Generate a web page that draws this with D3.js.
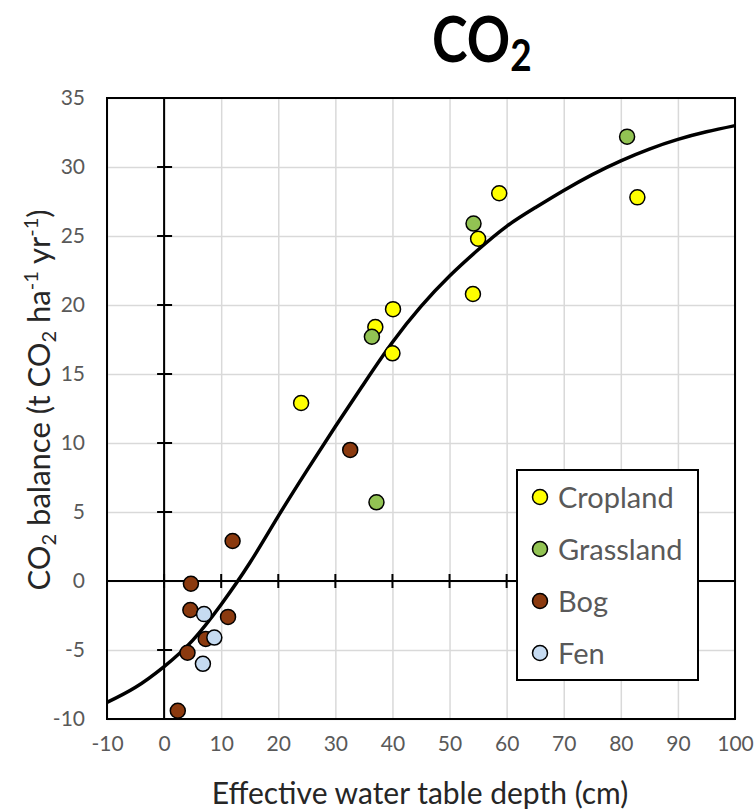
<!DOCTYPE html>
<html>
<head>
<meta charset="utf-8">
<script src="https://cdn.jsdelivr.net/npm/d3@7"></script>
<style>
  html, body { margin: 0; padding: 0; background: #fff; }
  svg { display: block; font-family: Lato, "Open Sans", sans-serif; }
</style>
</head>
<body>
<svg id="chart" width="755" height="811"></svg>
<script>
// Measured CO2 balance (t CO2 ha-1 yr-1) against effective water table depth (cm)
const croplandDepth = [24.0, 37.0, 40.1, 40.0, 54.1, 55.0, 58.7, 82.9];
const croplandCO2   = [12.9, 18.4, 19.7, 16.5, 20.8, 24.8, 28.1, 27.8];

const grasslandDepth = [81.1, 54.2, 36.4, 37.2];
const grasslandCO2   = [32.2, 25.9, 17.7, 5.7];

const bogDepth = [32.6, 12.0, 4.7, 4.6, 11.2, 7.3, 4.1, 2.4];
const bogCO2   = [9.5, 2.9, -0.2, -2.1, -2.6, -4.2, -5.2, -9.4];

const fenDepth = [7.0, 8.8, 6.8];
const fenCO2   = [-2.4, -4.1, -6.0];

// Fitted response curve, read at 5 cm steps
const curveDepth = [-10, -5, 0, 5, 10, 15, 20, 25, 30, 35, 40, 45, 50, 55, 60, 65, 70, 75, 80, 85, 90, 95, 100];
const curveCO2   = [-8.8, -7.7, -6.2, -4.3, -1.7, 1.3, 4.7, 8.0, 11.2, 14.3, 17.3, 19.9, 22.1, 24.0, 25.7, 27.05, 28.3, 29.45, 30.45, 31.3, 32.0, 32.55, 33.0];

const xTicks = [-10, 0, 10, 20, 30, 40, 50, 60, 70, 80, 90, 100];
const yTicks = [-10, -5, 0, 5, 10, 15, 20, 25, 30, 35];

const seriesNames  = ["Cropland", "Grassland", "Bog", "Fen"];
const seriesColors = ["#ffff00", "#92c353", "#8b3a0f", "#c6dbf1"];

const series = [
  { name: seriesNames[0], color: seriesColors[0], xs: croplandDepth, ys: croplandCO2 },
  { name: seriesNames[1], color: seriesColors[1], xs: grasslandDepth, ys: grasslandCO2 },
  { name: seriesNames[2], color: seriesColors[2], xs: bogDepth, ys: bogCO2 },
  { name: seriesNames[3], color: seriesColors[3], xs: fenDepth, ys: fenCO2 }
];

const svg = d3.select("#chart");
const plot = { left: 107, right: 735, top: 98, bottom: 719 };

const x = d3.scaleLinear().domain([-10, 100]).range([plot.left, plot.right]);
const y = d3.scaleLinear().domain([-10, 35]).range([plot.bottom, plot.top]);

// Grid lines
svg.append("g")
  .attr("transform", `translate(0,${plot.bottom})`)
  .call(d3.axisBottom(x).tickValues(xTicks).tickSize(-(plot.bottom - plot.top)).tickFormat(""))
  .call(g => g.select(".domain").remove())
  .call(g => g.selectAll("line").attr("stroke", "#d9d9d9").attr("stroke-width", 1.5));

svg.append("g")
  .attr("transform", `translate(${plot.left},0)`)
  .call(d3.axisLeft(y).tickValues(yTicks).tickSize(-(plot.right - plot.left)).tickFormat(""))
  .call(g => g.select(".domain").remove())
  .call(g => g.selectAll("line").attr("stroke", "#d9d9d9").attr("stroke-width", 1.5));

// Tick labels (plain hyphen for negatives)
const tickColor = "#595959";
const fmt = d => String(d);
svg.append("g")
  .attr("transform", `translate(0,${plot.bottom})`)
  .call(d3.axisBottom(x).tickValues(xTicks).tickSize(0).tickPadding(17).tickFormat(fmt))
  .call(g => g.select(".domain").remove())
  .call(g => g.selectAll("text").attr("fill", tickColor).attr("font-size", 21).attr("font-family", "Lato, sans-serif"));

svg.append("g")
  .attr("transform", `translate(${plot.left},0)`)
  .call(d3.axisLeft(y).tickValues(yTicks).tickSize(0).tickPadding(22).tickFormat(fmt))
  .call(g => g.select(".domain").remove())
  .call(g => g.selectAll("text").attr("fill", tickColor).attr("font-size", 21).attr("font-family", "Lato, sans-serif"));

// Zero axes with crossing tick marks
const axisG = svg.append("g").attr("stroke", "#000").attr("stroke-width", 2);
axisG.append("line")
  .attr("x1", x(0)).attr("x2", x(0)).attr("y1", plot.top).attr("y2", plot.bottom);
axisG.append("line")
  .attr("x1", plot.left).attr("x2", plot.right).attr("y1", y(0)).attr("y2", y(0));
axisG.selectAll(".yt").data(yTicks).join("line")
  .attr("x1", x(0) - 7).attr("x2", x(0) + 8)
  .attr("y1", d => y(d)).attr("y2", d => y(d));
axisG.selectAll(".xt").data(xTicks).join("line")
  .attr("x1", d => x(d)).attr("x2", d => x(d))
  .attr("y1", y(0) - 7).attr("y2", y(0) + 7);

// Plot frame
svg.append("rect")
  .attr("x", plot.left).attr("y", plot.top)
  .attr("width", plot.right - plot.left).attr("height", plot.bottom - plot.top)
  .attr("fill", "none").attr("stroke", "#000").attr("stroke-width", 2);

// Fitted curve
const line = d3.line()
  .x((d, i) => x(curveDepth[i]))
  .y(d => y(d))
  .curve(d3.curveNatural);
svg.append("path")
  .datum(curveCO2)
  .attr("d", line)
  .attr("fill", "none")
  .attr("stroke", "#000")
  .attr("stroke-width", 3.5);

// Data points
series.forEach(s => {
  svg.append("g").selectAll("circle")
    .data(s.xs.map((v, i) => [v, s.ys[i]]))
    .join("circle")
    .attr("cx", d => x(d[0]))
    .attr("cy", d => y(d[1]))
    .attr("r", 7.5)
    .attr("fill", s.color)
    .attr("stroke", "#000")
    .attr("stroke-width", 1.5);
});

// Legend
const legend = svg.append("g");
legend.append("rect")
  .attr("x", 517).attr("y", 470).attr("width", 181).attr("height", 210)
  .attr("fill", "#fff").attr("stroke", "#000").attr("stroke-width", 2);
series.forEach((s, i) => {
  const cy = 497 + i * 52;
  legend.append("circle")
    .attr("cx", 540).attr("cy", cy).attr("r", 7.5)
    .attr("fill", s.color).attr("stroke", "#000").attr("stroke-width", 1.5);
  legend.append("text")
    .attr("x", 558).attr("y", cy + 11)
    .attr("font-size", 29).attr("fill", "#595959")
    .text(s.name);
});

// Axis titles
svg.append("text")
  .attr("x", 420).attr("y", 804)
  .attr("text-anchor", "middle")
  .attr("font-size", 30).attr("fill", "#262626")
  .text("Effective water table depth (cm)");

const yTitle = svg.append("text")
  .attr("transform", "translate(50,400) rotate(-90)")
  .attr("text-anchor", "middle")
  .attr("font-size", 31).attr("fill", "#262626");
yTitle.append("tspan").text("CO");
yTitle.append("tspan").attr("font-size", 20).attr("dy", 6).text("2");
yTitle.append("tspan").attr("dy", -6).text(" balance (t CO");
yTitle.append("tspan").attr("font-size", 20).attr("dy", 6).text("2");
yTitle.append("tspan").attr("dy", -6).text(" ha");
yTitle.append("tspan").attr("font-size", 20).attr("dy", -12).text("-1");
yTitle.append("tspan").attr("dy", 12).text(" yr");
yTitle.append("tspan").attr("font-size", 20).attr("dy", -12).text("-1");
yTitle.append("tspan").attr("dy", 12).text(")");

// Chart title
const title = svg.append("text")
  .attr("transform", "translate(432,62) scale(0.84,1)")
  .attr("font-size", 64).attr("font-weight", "bold").attr("fill", "#000");
title.append("tspan").text("CO");
title.append("tspan").attr("font-size", 44).attr("dy", 9).text("2");
</script>
</body>
</html>
